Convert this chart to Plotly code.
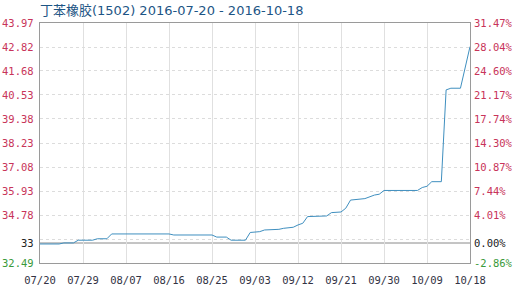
import plotly.graph_objects as go

title_text = "丁苯橡胶(1502) 2016-07-20 - 2016-10-18"

dates = ["2016-07-20", "2016-07-24", "2016-07-25", "2016-07-27", "2016-07-28", "2016-07-31",
         "2016-08-01", "2016-08-03", "2016-08-04", "2016-08-16", "2016-08-17", "2016-08-25",
         "2016-08-26", "2016-08-28", "2016-08-29", "2016-09-01", "2016-09-02", "2016-09-04",
         "2016-09-05", "2016-09-08", "2016-09-09", "2016-09-11", "2016-09-12", "2016-09-13",
         "2016-09-14", "2016-09-18", "2016-09-19", "2016-09-21", "2016-09-22", "2016-09-23",
         "2016-09-26", "2016-09-27", "2016-09-28", "2016-09-29", "2016-09-30", "2016-10-07",
         "2016-10-08", "2016-10-09", "2016-10-10", "2016-10-12", "2016-10-13", "2016-10-14",
         "2016-10-16", "2016-10-18"]
prices = [33.40, 33.40, 33.45, 33.45, 33.58, 33.58,
          33.65, 33.65, 33.88, 33.88, 33.83, 33.83,
          33.73, 33.73, 33.58, 33.58, 33.95, 33.99,
          34.07, 34.10, 34.15, 34.20, 34.31, 34.39,
          34.71, 34.74, 34.90, 34.93, 35.11, 35.50,
          35.57, 35.66, 35.74, 35.78, 35.96, 35.96,
          36.10, 36.16, 36.38, 36.38, 40.77, 40.85,
          40.85, 42.84]

base_value = 33.446
y_min, y_max = 32.49, 43.97
grid_values = [32.49, 33.638, 34.78, 35.93, 37.08, 38.23, 39.38, 40.53, 41.68, 42.82, 43.97]
left_labels = ["32.49", "33", "34.78", "35.93", "37.08", "38.23", "39.38", "40.53", "41.68", "42.82", "43.97"]
left_label_values = [32.49, 33.446, 34.78, 35.93, 37.08, 38.23, 39.38, 40.53, 41.68, 42.82, 43.97]
right_labels = ["-2.86%", "0.00%", "4.01%", "7.44%", "10.87%", "14.30%", "17.74%", "21.17%",
                "24.60%", "28.04%", "31.47%"]

x_tick_dates = ["2016-07-20", "2016-07-29", "2016-08-07", "2016-08-16", "2016-08-25", "2016-09-03",
                "2016-09-12", "2016-09-21", "2016-09-30", "2016-10-09", "2016-10-18"]
x_tick_labels = ["07/20", "07/29", "08/07", "08/16", "08/25", "09/03",
                 "09/12", "09/21", "09/30", "10/09", "10/18"]

RED = "#c8345a"
GREEN = "#3a9a3a"
BLACK = "#222222"
MONO = "DejaVu Sans Mono"


def label_color(v):
    if abs(v - base_value) < 1e-6:
        return BLACK
    return RED if v > base_value else GREEN


fig = go.Figure()
fig.add_trace(go.Scatter(
    x=dates, y=prices, mode="lines",
    line=dict(color="#3f8fbf", width=1),
    hoverinfo="skip", showlegend=False,
))

fig.add_shape(type="line", xref="paper", yref="y", x0=0, x1=1, y0=base_value, y1=base_value,
              line=dict(color="#8a8a8a", width=1), layer="below")

annotations = []
for lab, v in zip(left_labels, left_label_values):
    annotations.append(dict(xref="paper", yref="y", x=0, y=v, text=lab, showarrow=False,
                            xanchor="right", yanchor="middle", xshift=-4,
                            font=dict(family=MONO, size=10.5, color=label_color(v))))
for lab, v in zip(right_labels, left_label_values):
    annotations.append(dict(xref="paper", yref="y", x=1, y=v, text=lab, showarrow=False,
                            xanchor="left", yanchor="middle", xshift=2,
                            font=dict(family=MONO, size=10.5, color=label_color(v))))
annotations.append(dict(xref="paper", yref="paper", x=0, y=1, yshift=13, text=title_text,
                        showarrow=False, xanchor="left", yanchor="middle", xshift=-2,
                        font=dict(family="DejaVu Sans, Noto Sans CJK SC", size=13, color="#1d5585")))

fig.update_layout(
    width=515, height=288,
    margin=dict(l=40, r=45, t=23, b=25),
    paper_bgcolor="white", plot_bgcolor="white",
    annotations=annotations,
    xaxis=dict(
        type="date",
        range=["2016-07-20", "2016-10-18"],
        tickvals=x_tick_dates, ticktext=x_tick_labels,
        tickfont=dict(family=MONO, size=10.5, color="#333344"),
        showgrid=True, gridcolor="#e0e0e0", gridwidth=1,
        showline=True, linecolor="#9a9a9a", linewidth=1, mirror=True,
        ticks="outside", ticklen=7, tickcolor="rgba(0,0,0,0)", zeroline=False,
        automargin=False,
    ),
    yaxis=dict(
        range=[y_min, y_max],
        tickvals=grid_values, showticklabels=False,
        showgrid=True, gridcolor="#dcdcdc", griddash="dot", gridwidth=1,
        showline=True, linecolor="#9a9a9a", linewidth=1, mirror=True,
        ticks="", zeroline=False, automargin=False,
    ),
)

fig.write_html("out.html")
